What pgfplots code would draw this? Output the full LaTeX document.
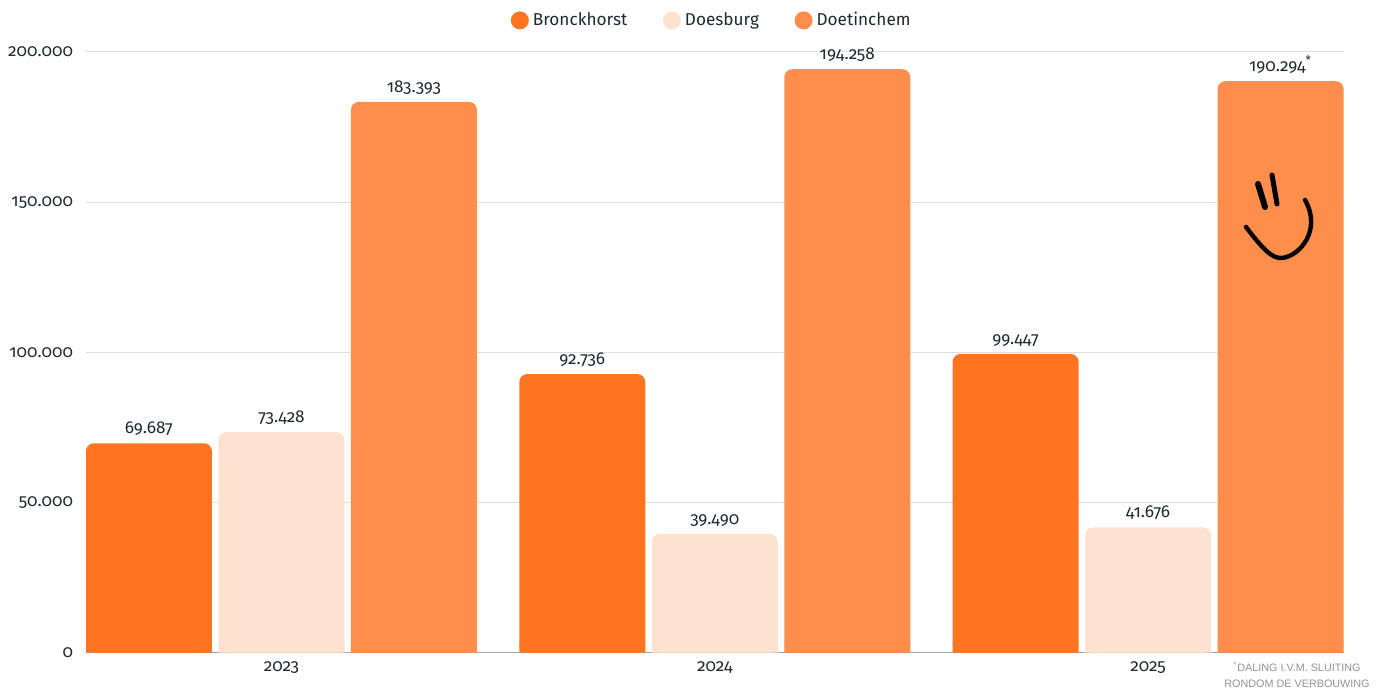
\documentclass[border=0pt]{standalone}
\usepackage{fontspec}
\setmainfont[Numbers=OldStyle]{Fira Sans}
\newfontfamily\notefont{Liberation Sans}
\usepackage{pgfplots}
\usepackage{pgfplotstable}
\pgfplotsset{compat=1.18}

\definecolor{bronck}{HTML}{FF7420}
\definecolor{doesb}{HTML}{FDE3CF}
\definecolor{doet}{HTML}{FF8D4B}
\definecolor{inkt}{HTML}{1E2A30}
\definecolor{raster}{HTML}{DEDEDE}

\pgfplotstableread{
x y label
0 69687 69.687
1 92736 92.736
2 99447 99.447
}\bronckhorst
\pgfplotstableread{
x y label
0 73428 73.428
1 39490 39.490
2 41676 41.676
}\doesburg
\pgfplotstableread{
x y label
0 183393 183.393
1 194258 194.258
2 190294 190.294\textsuperscript{*}
}\doetinchem

\begin{document}
\begin{tikzpicture}
\path[use as bounding box] (0,0) rectangle (693pt,345.5pt);
\begin{axis}[
    at={(43pt,19.25pt)}, anchor=south west,
    scale only axis,
    width=628.75pt, height=300.25pt,
    ybar,
    bar width=63pt,
    xmin=-0.451, xmax=2.451,
    ymin=0, ymax=200000,
    xtick=data,
    xticklabels={2023,2024,2025},
    ytick={0,50000,100000,150000,200000},
    scaled y ticks=false,
    yticklabel style={/pgf/number format/fixed,/pgf/number format/precision=0,/pgf/number format/1000 sep={.},/pgf/number format/assume math mode=true},
    major tick length=0pt,
    ymajorgrids=true,
    grid style={raster,line width=0.5pt},
    axis x line=bottom,
    axis y line=left,
    x axis line style={-,draw=gray!70,line width=0.4pt},
    y axis line style={-,draw=none},
    tick label style={font=\fontsize{8.6}{10}\selectfont,text=inkt},
    every x tick label/.append style={yshift=-1pt},
    every y tick label/.append style={xshift=-3pt},
    every node near coord/.append style={font=\fontsize{8.6}{10}\selectfont,text=inkt,inner sep=1.5pt,yshift=2pt},
    legend columns=3,
    legend style={draw=none,fill=none,at={(0.5,1)},anchor=south,yshift=7.5pt,xshift=-1pt,
        font=\fontsize{8.6}{10}\selectfont,text=inkt,
        /tikz/every even column/.append style={column sep=15.8pt}},
    legend image code/.code={\fill[#1] (0.1cm,0) circle (4.5pt);},
]
% square feet under the rounded bars, so only the top corners look rounded
\addplot[fill=bronck,draw=none,bar shift=-66.25pt,forget plot,y filter/.expression={min(y,3000)}] table[x=x,y=y] {\bronckhorst};
\addplot[fill=doesb,draw=none,bar shift=0pt,forget plot,y filter/.expression={min(y,3000)}] table[x=x,y=y] {\doesburg};
\addplot[fill=doet,draw=none,bar shift=66.25pt,forget plot,y filter/.expression={min(y,3000)}] table[x=x,y=y] {\doetinchem};

\addplot[fill=bronck,draw=none,rounded corners=4pt,bar shift=-66.25pt,point meta=explicit symbolic,nodes near coords] table[x=x,y=y,meta=label] {\bronckhorst};
\addlegendentry{Bronckhorst}
\addplot[fill=doesb,draw=none,rounded corners=4pt,bar shift=0pt,point meta=explicit symbolic,nodes near coords] table[x=x,y=y,meta=label] {\doesburg};
\addlegendentry{Doesburg}
\addplot[fill=doet,draw=none,rounded corners=4pt,bar shift=66.25pt,point meta=explicit symbolic,nodes near coords] table[x=x,y=y,meta=label] {\doetinchem};
\addlegendentry{Doetinchem}
\end{axis}
% hand-drawn smiley and footnote, in reference pixels
\begin{scope}[x=0.5pt,y=-0.5pt,yshift=345.5pt]
  \draw[black,line width=3pt,line cap=round] (1258,184) -- (1265,207);
  \draw[black,line width=2.5pt,line cap=round] (1272,175) -- (1277,204);
  \draw[black,line width=2.2pt,line cap=round] (1246,227) .. controls (1262,248) and (1272,259) .. (1282,258)
     .. controls (1300,256) and (1322,230) .. (1305,200);
  \node[text=gray!85,font=\notefont\fontsize{5.4}{8}\selectfont,align=center] at (1297,675)
     {\textsuperscript{*}DALING I.V.M. SLUITING\\RONDOM DE VERBOUWING};
\end{scope}
\end{tikzpicture}
\end{document}
